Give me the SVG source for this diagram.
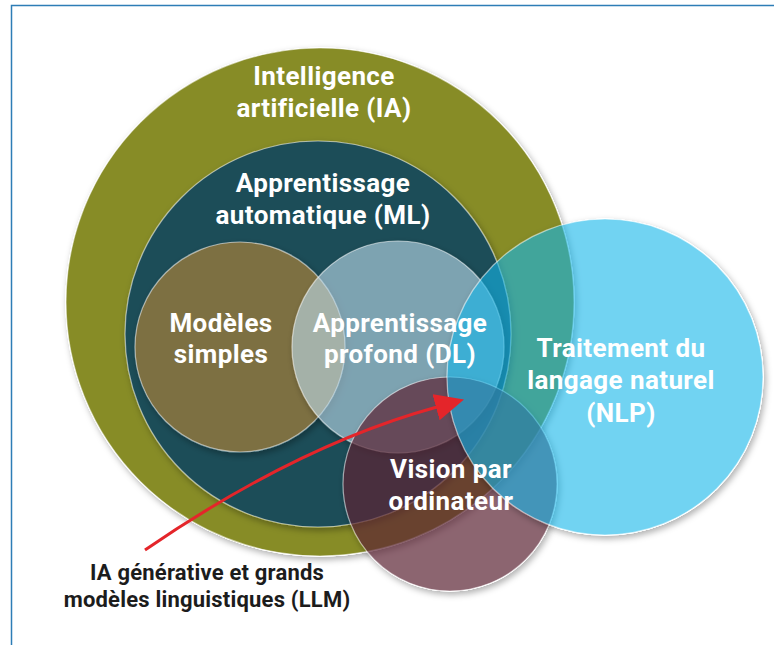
<svg xmlns="http://www.w3.org/2000/svg" width="774" height="645" viewBox="0 0 774 645">
  <defs>
    <style>
      .disc { stroke: #ffffff; stroke-opacity: 0.55; stroke-width: 1.2; filter: url(#shadow); }
      .lbl { font-family: Roboto, "Liberation Sans", sans-serif; font-weight: 700; font-size: 26px; letter-spacing: 0.4px; fill: #ffffff; text-anchor: middle; }
      .note { font-family: Roboto, "Liberation Sans", sans-serif; font-weight: 700; font-size: 22px; letter-spacing: 0.2px; fill: #1c1c1c; text-anchor: middle; }
      .link { fill: none; stroke: #e4252a; stroke-width: 3; }
      .frame { stroke: #2d7db6; stroke-width: 1.5; fill: none; }
    </style>
    <!-- soft shadow kept outside each disc so translucent fills stay clean -->
    <filter id="shadow" x="-10%" y="-10%" width="125%" height="125%">
      <feComponentTransfer in="SourceAlpha" result="solid">
        <feFuncA type="linear" slope="4" intercept="0"/>
      </feComponentTransfer>
      <feGaussianBlur in="solid" stdDeviation="3"/>
      <feOffset dx="2" dy="3" result="blur"/>
      <feComposite in="blur" in2="solid" operator="out" result="outside"/>
      <feFlood flood-color="#000000" flood-opacity="0.3"/>
      <feComposite in2="outside" operator="in" result="drop"/>
      <feMerge>
        <feMergeNode in="drop"/>
        <feMergeNode in="SourceGraphic"/>
      </feMerge>
    </filter>
    <marker id="head" markerUnits="userSpaceOnUse" markerWidth="30" markerHeight="28" viewBox="0 -14 30 28" refX="1" refY="0" orient="auto">
      <path d="M0,-13.5 L29,0 L0,13.5 Z" fill="#e4252a"/>
    </marker>
  </defs>

  <rect width="774" height="645" fill="#ffffff"/>
  <!-- frame edges -->
  <path class="frame" d="M11.5,645 L11.5,5.5 L774,5.5"/>

  <g id="discs">
    <g id="node-ia">
      <circle class="disc" cx="320" cy="302" r="254" fill="#878c27"/>
    </g>
    <g id="node-ml">
      <circle class="disc" cx="318" cy="334" r="193" fill="#1e4d59"/>
    </g>
    <g id="node-simple">
      <circle class="disc" cx="240" cy="347" r="105" fill="#7d6f43"/>
    </g>
    <g id="node-dl">
      <circle class="disc" cx="398" cy="347" r="106" fill="#bedcec" fill-opacity="0.6"/>
    </g>
    <g id="node-cv">
      <circle class="disc" cx="450" cy="484" r="107" fill="#5b2233" fill-opacity="0.7"/>
    </g>
    <g id="node-nlp">
      <circle class="disc" cx="605" cy="377" r="158" fill="#0fb6e9" fill-opacity="0.6"/>
    </g>
  </g>

  <g id="labels">
    <g id="label-ia">
      <text class="lbl" x="324" y="85">Intelligence</text>
      <text class="lbl" x="324" y="117">artificielle (IA)</text>
    </g>
    <g id="label-ml">
      <text class="lbl" x="323" y="192">Apprentissage</text>
      <text class="lbl" x="323" y="224">automatique (ML)</text>
    </g>
    <g id="label-simple">
      <text class="lbl" x="221" y="332">Modèles</text>
      <text class="lbl" x="221" y="363">simples</text>
    </g>
    <g id="label-dl">
      <text class="lbl" x="400" y="332">Apprentissage</text>
      <text class="lbl" x="400" y="363">profond (DL)</text>
    </g>
    <g id="label-cv">
      <text class="lbl" x="451" y="478">Vision par</text>
      <text class="lbl" x="451" y="510">ordinateur</text>
    </g>
    <g id="label-nlp">
      <text class="lbl" x="621" y="357">Traitement du</text>
      <text class="lbl" x="621" y="389">langage naturel</text>
      <text class="lbl" x="621" y="422">(NLP)</text>
    </g>
  </g>

  <g id="connectors">
    <path class="link" d="M145,550 Q298,445 437,407" marker-end="url(#head)"/>
  </g>

  <g id="node-llm">
    <text class="note" x="207" y="580">IA générative et grands</text>
    <text class="note" x="207" y="607">modèles linguistiques (LLM)</text>
  </g>
</svg>
